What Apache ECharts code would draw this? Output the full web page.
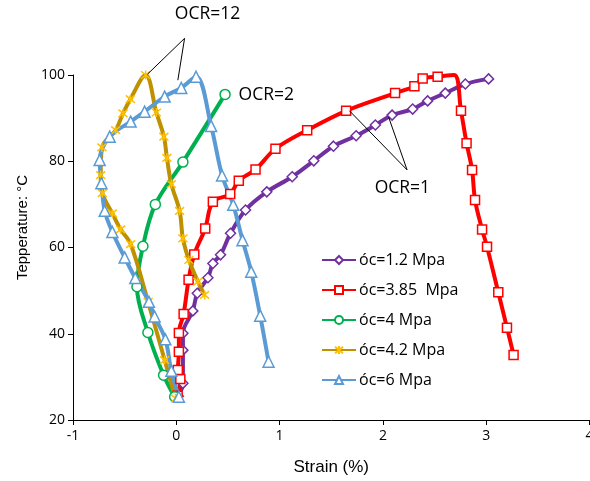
<!DOCTYPE html>
<html>
<head>
<meta charset="utf-8">
<script src="https://cdn.jsdelivr.net/npm/echarts@6/dist/echarts.min.js"></script>
<style>html,body{margin:0;padding:0;background:#fff;}#c{width:590px;height:481px;}</style>
</head>
<body>
<div id="c"></div>
<script>
// ---- data (strain %, temperature °C) ----
const seriesNames = ['óc=1.2 Mpa', 'óc=3.85  Mpa', 'óc=4 Mpa', 'óc=4.2 Mpa', 'óc=6 Mpa'];

const strain12 = [0.02, 0.064, 0.064, 0.064, 0.16, 0.203, 0.306, 0.354, 0.428, 0.525, 0.67, 0.876, 1.122, 1.331, 1.521, 1.741, 1.927, 2.089, 2.288, 2.433, 2.604, 2.798, 3.023];
const temp12   = [25.5, 28.5, 36.2, 40.1, 45.3, 49.4, 53.0, 56.3, 58.3, 63.3, 68.7, 72.9, 76.4, 80.1, 83.5, 85.9, 88.4, 90.7, 92.1, 94.0, 95.8, 97.9, 99.1];

const strain385 = [0.013, 0.039, 0.015, 0.025, 0.025, 0.071, 0.119, 0.174, 0.28, 0.354, 0.522, 0.605, 0.767, 0.96, 1.267, 1.644, 2.118, 2.305, 2.385, 2.53, 2.69, 2.756, 2.81, 2.863, 2.892, 2.96, 3.008, 3.117, 3.201, 3.265];
const temp385   = [25.6, 29.5, 31.6, 35.8, 40.2, 44.6, 52.5, 58.4, 64.4, 70.6, 72.4, 75.5, 78.1, 82.9, 87.2, 91.7, 95.8, 97.4, 99.2, 99.6, 100, 91.7, 84.2, 78.0, 71.0, 64.2, 60.2, 49.6, 41.4, 35.1];
const unmarked385 = [20]; // index of the point drawn without a marker

const strain4 = [-0.016, -0.123, -0.275, -0.381, -0.323, -0.203, 0.064, 0.472];
const temp4   = [25.4, 30.4, 40.3, 50.9, 60.3, 70.0, 79.8, 95.5];

const strain42 = [-0.007, -0.113, -0.273, -0.442, -0.539, -0.619, -0.716, -0.732, -0.72, -0.587, -0.516, -0.445, -0.297, -0.193, -0.12, -0.091, -0.048, 0.032, 0.064, 0.122, 0.209, 0.274];
const temp42   = [25.0, 33.9, 47.4, 60.8, 64.2, 67.9, 72.6, 76.8, 83.2, 87.2, 91.1, 94.4, 100, 91.3, 85.7, 80.8, 74.7, 68.5, 62.1, 57.1, 52.1, 49.0];

const strain6 = [0.025, -0.048, -0.106, -0.21, -0.265, -0.397, -0.5, -0.619, -0.693, -0.725, -0.742, -0.645, -0.442, -0.307, -0.113, 0.048, 0.191, 0.337, 0.443, 0.551, 0.641, 0.725, 0.812, 0.893];
const temp6   = [25.4, 31.4, 38.7, 44.0, 47.4, 52.9, 57.7, 63.6, 68.5, 74.9, 80.3, 85.7, 89.2, 91.5, 95.0, 97.0, 99.6, 88.2, 76.7, 69.9, 61.7, 54.4, 44.2, 33.5];

const xTicks = {min: -1, max: 4, interval: 1};
const yTicks = {min: 20, max: 100, interval: 20};

// annotations in data coordinates
const annotTexts = [
  {text: 'OCR=12', x: 0.303, y: 114.1, align: 'center'},
  {text: 'OCR=2', x: 0.603, y: 95.4, align: 'left'},
  {text: 'OCR=1', x: 1.92, y: 73.7, align: 'left'}
];
const leaderLines = [
  [0.08, 108.5, -0.278, 100.2],
  [0.08, 108.5, 0.015, 98.8],
  [2.234, 78.0, 1.676, 91.7],
  [2.234, 78.0, 2.056, 90.2]
];

// ---- build ----
function pairs(xs, ys, hidden) {
  return xs.map((x, i) => (hidden && hidden.indexOf(i) >= 0)
    ? {value: [x, ys[i]], symbol: 'none'} : [x, ys[i]]);
}
const asterisk = 'path://M0,0L10,10M10,0L0,10M5,-1L5,11';
const FONT = 'Open Sans';

function mk(name, data, lineColor, symbol, size, fill, border) {
  return {
    name: name, type: 'line', data: data, smooth: 0.35,
    showSymbol: true, showAllSymbol: true, symbol: symbol, symbolSize: size,
    lineStyle: {color: lineColor, width: 4},
    itemStyle: {color: fill, borderColor: border, borderWidth: 1.5},
    emphasis: {disabled: true}, animation: false, z: 2
  };
}

const chart = echarts.init(document.getElementById('c'), null, {renderer: 'canvas'});
const option = {
  backgroundColor: '#fff',
  animation: false,
  grid: {left: 73, right: 0.5, top: 75, bottom: 61, containLabel: false, outerBoundsMode: 'none'},
  xAxis: {
    type: 'value', min: xTicks.min, max: xTicks.max, interval: xTicks.interval,
    name: 'Strain (%)', nameLocation: 'middle', nameGap: 39,
    nameTextStyle: {fontFamily: 'Liberation Sans', fontSize: 17, color: '#000'},
    axisLine: {onZero: false, lineStyle: {color: '#000', width: 1}},
    axisTick: {show: true, inside: false, length: 5, lineStyle: {color: '#000'}},
    axisLabel: {fontFamily: FONT, fontSize: 14, color: '#000', margin: 9, hideOverlap: false, showMaxLabel: true, showMinLabel: true},
    splitLine: {show: false}
  },
  yAxis: {
    type: 'value', min: yTicks.min, max: yTicks.max, interval: yTicks.interval,
    name: 'Tepperature: °C', nameLocation: 'middle', nameGap: 43, nameRotate: 90,
    nameTextStyle: {fontFamily: 'Liberation Sans', fontSize: 15, color: '#000', padding: [0, 0, 0, 40]},
    axisLine: {show: true, onZero: false, lineStyle: {color: '#000', width: 1}},
    axisTick: {show: true, inside: false, length: 5, lineStyle: {color: '#000'}},
    axisLabel: {fontFamily: FONT, fontSize: 14, color: '#000', margin: 8},
    splitLine: {show: false}
  },
  legend: {
    orient: 'vertical', left: 316, top: 247, itemGap: 14,
    itemWidth: 34, itemHeight: 10,
    textStyle: {fontFamily: FONT, fontSize: 16, color: '#000', padding: [0, 0, 0, -2]},
    data: seriesNames
  },
  series: [
    mk(seriesNames[0], pairs(strain12, temp12), '#7030A0', 'diamond', 10, '#fff', '#7030A0'),
    mk(seriesNames[1], pairs(strain385, temp385, unmarked385), '#FF0000', 'rect', 9, '#fff', '#FF0000'),
    mk(seriesNames[2], pairs(strain4, temp4), '#00B050', 'circle', 10, '#fff', '#00B050'),
    mk(seriesNames[3], pairs(strain42, temp42), '#BF9000', asterisk, 9, '#FFC000', '#FFC000'),
    mk(seriesNames[4], pairs(strain6, temp6), '#5B9BD5', 'triangle', 11, '#fff', '#5B9BD5')
  ]
};
chart.setOption(option);

// annotations positioned through the chart's own coordinate conversion
const g = [];
leaderLines.forEach(l => {
  const p1 = chart.convertToPixel({gridIndex: 0}, [l[0], l[1]]);
  const p2 = chart.convertToPixel({gridIndex: 0}, [l[2], l[3]]);
  g.push({type: 'line', shape: {x1: p1[0], y1: p1[1], x2: p2[0], y2: p2[1]},
          style: {stroke: '#000', lineWidth: 1}, z: 10, silent: true});
});
annotTexts.forEach(t => {
  const p = chart.convertToPixel({gridIndex: 0}, [t.x, t.y]);
  g.push({type: 'text', x: p[0], y: p[1], z: 10, silent: true,
          style: {text: t.text, fontFamily: FONT, fontSize: 17.5, fill: '#000',
                  align: t.align, verticalAlign: 'middle'}});
});
chart.setOption({graphic: g});
</script>
</body>
</html>
